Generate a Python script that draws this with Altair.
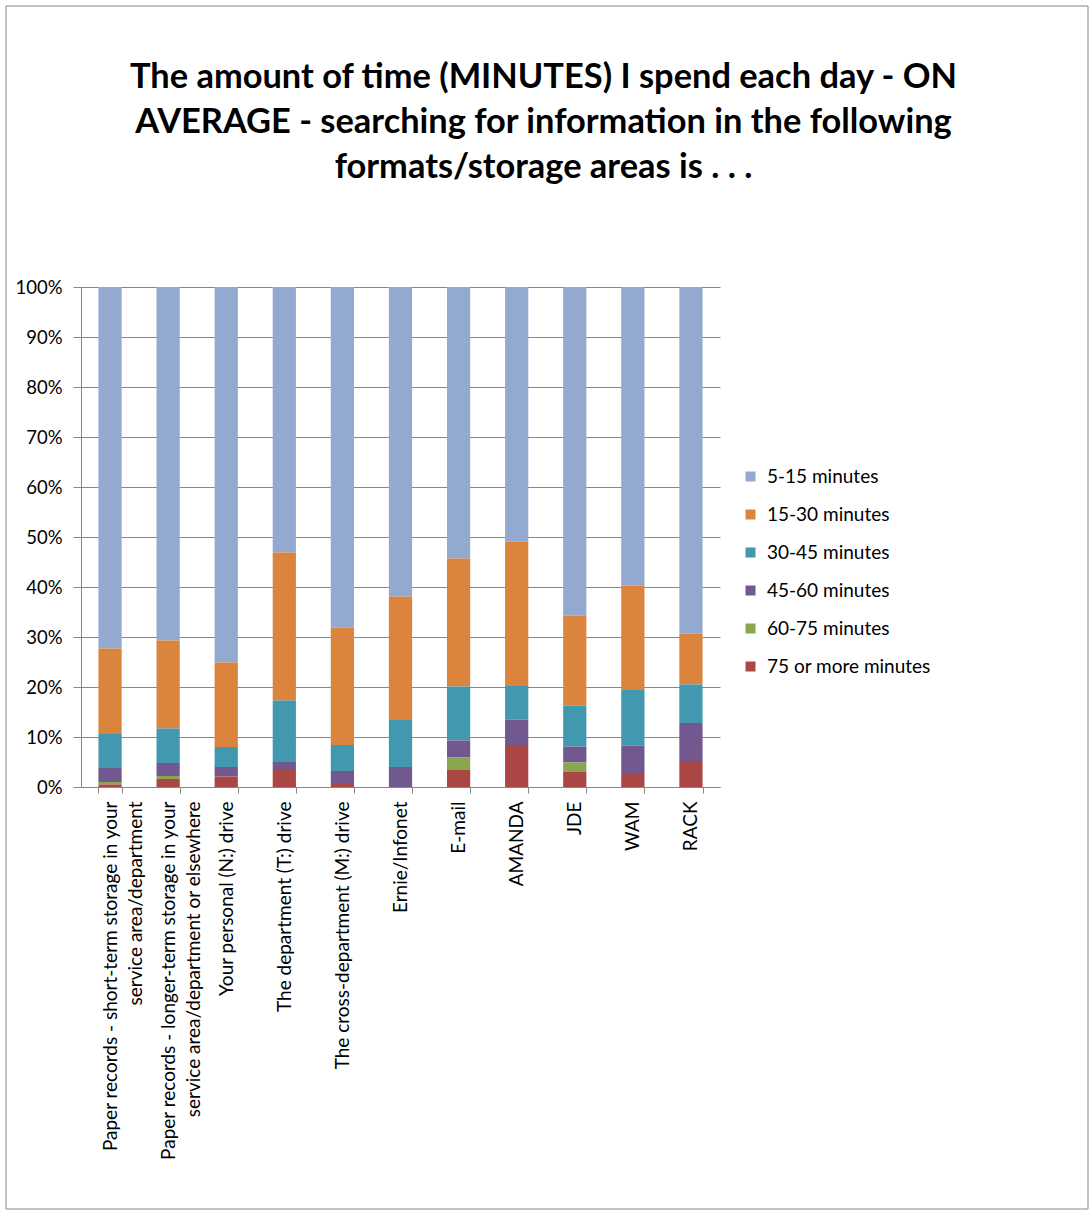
import altair as alt
import pandas as pd

categories = [
    "Paper records - short-term storage in your\nservice area/department",
    "Paper records - longer-term storage in your\nservice area/department or elsewhere",
    "Your personal (N:) drive",
    "The department (T:) drive",
    "The cross-department (M:) drive",
    "Ernie/Infonet",
    "E-mail",
    "AMANDA",
    "JDE",
    "WAM",
    "RACK",
]

series_names = ["5-15 minutes", "15-30 minutes", "30-45 minutes",
                "45-60 minutes", "60-75 minutes", "75 or more minutes"]
series_colors = ["#93A9CF", "#DB843D", "#4198AF", "#71588F", "#89A54E", "#AA4643"]

v_5_15 = [72.3, 70.7, 75.1, 53.1, 68.1, 61.9, 54.3, 50.9, 65.7, 59.7, 69.3]
v_15_30 = [17.1, 17.6, 16.9, 29.6, 23.5, 24.7, 25.6, 28.9, 18.0, 20.9, 10.2]
v_30_45 = [6.8, 6.9, 4.0, 12.3, 5.2, 9.4, 10.8, 6.7, 8.2, 11.1, 7.7]
v_45_60 = [2.8, 2.6, 1.9, 1.6, 2.6, 4.0, 3.4, 5.1, 3.2, 5.5, 7.6]
v_60_75 = [0.5, 0.6, 0.0, 0.0, 0.0, 0.0, 2.5, 0.0, 1.8, 0.0, 0.0]
v_75_plus = [0.5, 1.6, 2.1, 3.4, 0.6, 0.0, 3.4, 8.4, 3.1, 2.8, 5.2]

all_series = [v_5_15, v_15_30, v_30_45, v_45_60, v_60_75, v_75_plus]

rows = []
for si, (name, vals) in enumerate(zip(series_names, all_series)):
    for cat, v in zip(categories, vals):
        rows.append({"category": cat, "series": name, "value": v,
                     "stack_order": len(series_names) - 1 - si})
df = pd.DataFrame(rows)

FONT = "Lato"
GRID = "#878787"

bars = alt.Chart(df).mark_bar().encode(
    x=alt.X("category:N", sort=categories,
            scale=alt.Scale(paddingInner=0.6, paddingOuter=0.3),
            axis=alt.Axis(title=None, labelAngle=270, labelAlign="right",
                          labelBaseline="middle", labelLimit=600,
                          labelExpr="split(datum.label, '\\n')",
                          labelFont=FONT, labelFontSize=19, labelColor="#000000",
                          labelLineHeight=25, labelPadding=8,
                          tickBand="extent", tickSize=6, tickColor=GRID,
                          domainColor=GRID, grid=False)),
    y=alt.Y("value:Q", stack="normalize",
            scale=alt.Scale(domain=[0, 1]),
            axis=alt.Axis(title=None, format=".0%", values=[i / 10 for i in range(11)],
                          labelFont=FONT, labelFontSize=18.5, labelColor="#000000",
                          labelPadding=11, tickSize=8, tickColor=GRID,
                          domainColor=GRID, gridColor=GRID, gridOpacity=1)),
    color=alt.Color("series:N",
                    scale=alt.Scale(domain=series_names, range=series_colors),
                    legend=alt.Legend(title=None, orient="none", legendX=660, legendY=180,
                                      symbolType="square", symbolSize=100,
                                      symbolStrokeWidth=0, labelFont=FONT,
                                      labelFontSize=19, labelColor="#000000",
                                      labelLimit=400,
                                      rowPadding=18, labelOffset=7)),
    order=alt.Order("stack_order:Q", sort="ascending"),
)

frame = alt.Chart(pd.DataFrame({"f": [0]})).mark_rect(
    fillOpacity=0, stroke="#868686", strokeWidth=1
).encode(
    x=alt.value(-75), x2=alt.value(1007), y=alt.value(-281), y2=alt.value(922)
)

chart = alt.layer(frame, bars).properties(
    width=639,
    height=500,
    padding={"left": 5, "top": 5, "right": 0, "bottom": 0},
    title=alt.TitleParams(
        text=["The amount of time (MINUTES) I spend each day - ON",
              "AVERAGE - searching for information in the following",
              "formats/storage areas is . . ."],
        font=FONT, fontSize=34.4, fontWeight="bold", color="#000000",
        lineHeight=45, anchor="middle", frame="group", dx=143,
        baseline="alphabetic", offset=-207,
    ),
).configure_view(stroke=None)

chart.save("out.html", embed_options={"renderer": "svg", "actions": False})
